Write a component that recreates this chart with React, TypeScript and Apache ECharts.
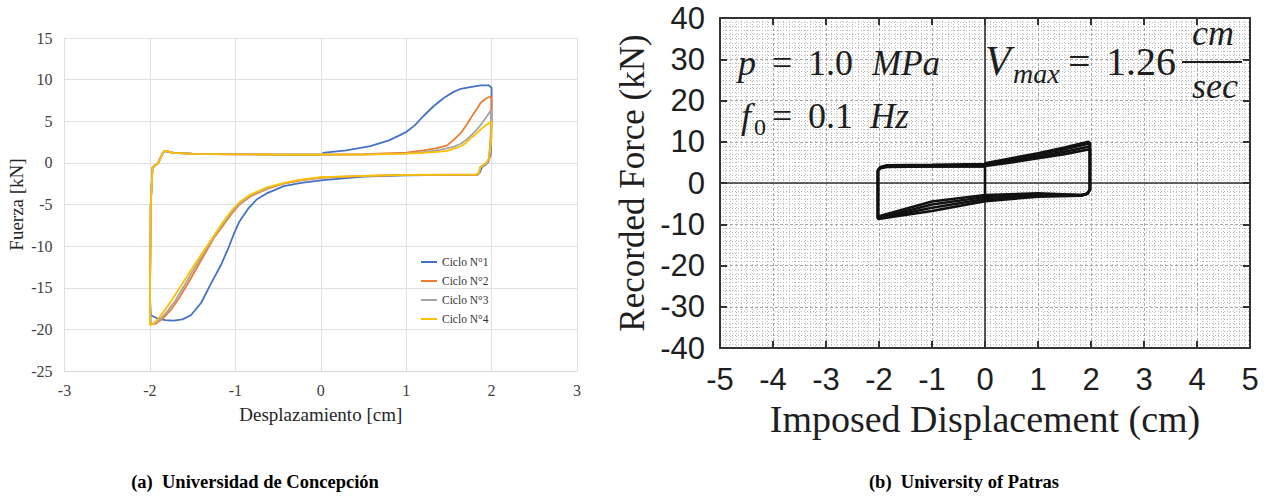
import React, { useEffect, useRef } from "react";
import * as echarts from "echarts";

// ---------- Left chart (Universidad de Concepción) ----------
const leftNames = ["Ciclo N°1", "Ciclo N°2", "Ciclo N°3", "Ciclo N°4"];
const leftColors = ["#4472C4", "#ED7D31", "#A5A5A5", "#FFC000"];
const leftXTicks = { min: -3, max: 3, interval: 1 };
const leftYTicks = { min: -25, max: 15, interval: 5 };

const ciclo1: number[][] = [
  [0.02, 1.2], [0.3, 1.5], [0.58, 2.0], [0.8, 2.7], [1.0, 3.7], [1.1, 4.5], [1.2, 5.6], [1.32, 6.8],
  [1.44, 7.8], [1.55, 8.5], [1.64, 8.9], [1.75, 9.1], [1.87, 9.3], [1.97, 9.3], [2.0, 9.0],
  [2.0, 5.0], [1.99, 1.0], [1.96, 0.1], [1.92, -0.3], [1.89, -0.45], [1.86, -1.2], [1.83, -1.45],
  [1.5, -1.45], [1.0, -1.5], [0.5, -1.65], [0.0, -2.1], [-0.23, -2.4], [-0.43, -2.8], [-0.62, -3.6],
  [-0.75, -4.4], [-0.85, -5.5], [-0.95, -7.0], [-1.02, -8.6], [-1.08, -10.2], [-1.17, -12.3],
  [-1.29, -14.6], [-1.4, -16.8], [-1.52, -18.3], [-1.62, -18.8], [-1.72, -18.95], [-1.82, -18.9],
  [-1.91, -18.7], [-1.99, -18.3], [-2.0, -16.0], [-1.99, -5.0], [-1.97, -0.6], [-1.94, -0.3],
  [-1.91, -0.1], [-1.87, 0.8], [-1.83, 1.4], [-1.78, 1.3], [-1.72, 1.2], [-1.5, 1.1], [-1.0, 1.05],
  [-0.5, 1.0], [0.0, 1.0],
];
const ciclo2: number[][] = [
  [0.0, 1.0], [0.5, 1.05], [1.0, 1.24], [1.2, 1.5], [1.35, 1.75], [1.48, 2.1], [1.56, 2.8],
  [1.64, 3.6], [1.71, 4.6], [1.77, 5.6], [1.83, 6.5], [1.87, 7.2], [1.93, 7.7], [1.99, 8.0],
  [2.0, 7.5], [1.99, 3.0], [1.97, 0.5], [1.94, 0.0], [1.9, -0.3], [1.87, -0.5], [1.85, -1.2],
  [1.83, -1.4], [1.5, -1.4], [1.0, -1.45], [0.5, -1.6], [0.0, -1.8], [-0.23, -2.1], [-0.43, -2.5],
  [-0.62, -3.1], [-0.82, -4.0], [-0.95, -5.0], [-1.05, -6.2], [-1.15, -7.6], [-1.25, -9.0],
  [-1.35, -10.8], [-1.45, -12.6], [-1.55, -14.4], [-1.65, -16.1], [-1.75, -17.6], [-1.85, -18.7],
  [-1.93, -19.3], [-1.99, -19.4], [-2.0, -17.0], [-1.99, -5.0], [-1.97, -0.6], [-1.93, -0.2],
  [-1.9, 0.0], [-1.86, 1.0], [-1.83, 1.45], [-1.78, 1.35], [-1.72, 1.2], [-1.5, 1.08],
  [-1.0, 1.03], [-0.5, 1.0], [0.0, 1.0],
];
const ciclo3: number[][] = [
  [0.0, 1.0], [0.5, 1.0], [1.0, 1.15], [1.2, 1.3], [1.4, 1.55], [1.56, 1.95], [1.64, 2.3],
  [1.72, 2.9], [1.8, 3.7], [1.86, 4.4], [1.91, 5.1], [1.96, 5.8], [1.99, 6.3], [2.0, 6.0],
  [1.99, 3.0], [1.97, 0.5], [1.94, 0.0], [1.9, -0.3], [1.87, -0.5], [1.85, -1.2], [1.83, -1.4],
  [1.0, -1.45], [0.5, -1.55], [0.0, -1.75], [-0.23, -2.05], [-0.43, -2.45], [-0.62, -3.0],
  [-0.82, -3.9], [-0.95, -4.9], [-1.05, -6.0], [-1.15, -7.4], [-1.27, -9.2], [-1.38, -11.0],
  [-1.5, -13.0], [-1.6, -14.8], [-1.7, -16.5], [-1.8, -17.9], [-1.88, -18.8], [-1.95, -19.3],
  [-1.99, -19.4], [-2.0, -17.0], [-1.99, -5.0], [-1.97, -0.6], [-1.93, -0.2], [-1.9, 0.0],
  [-1.86, 1.0], [-1.83, 1.45], [-1.78, 1.35], [-1.72, 1.2], [-1.5, 1.08], [-1.0, 1.03],
  [-0.5, 1.0], [0.0, 1.0],
];
const ciclo4: number[][] = [
  [0.0, 1.0], [0.5, 0.98], [1.0, 1.1], [1.2, 1.2], [1.4, 1.35], [1.48, 1.45], [1.56, 1.7],
  [1.64, 2.0], [1.7, 2.4], [1.76, 3.0], [1.82, 3.5], [1.87, 4.0], [1.93, 4.5], [1.99, 4.9],
  [2.0, 5.0], [2.0, 3.0], [1.97, 0.5], [1.94, 0.0], [1.9, -0.3], [1.87, -0.5], [1.85, -1.2],
  [1.82, -1.4], [1.0, -1.45], [0.5, -1.55], [0.0, -1.7], [-0.23, -2.0], [-0.43, -2.4],
  [-0.62, -2.9], [-0.82, -3.8], [-0.95, -4.7], [-1.05, -5.8], [-1.15, -7.2], [-1.3, -9.5],
  [-1.45, -11.8], [-1.6, -14.2], [-1.72, -16.1], [-1.82, -17.6], [-1.9, -18.7], [-1.96, -19.3],
  [-2.0, -19.5], [-2.0, -17.0], [-1.99, -5.0], [-1.97, -0.6], [-1.93, -0.2], [-1.9, 0.0],
  [-1.86, 1.0], [-1.83, 1.45], [-1.78, 1.35], [-1.72, 1.2], [-1.5, 1.08], [-1.0, 1.03],
  [-0.5, 1.0], [0.0, 1.0],
];
const leftData = [ciclo1, ciclo2, ciclo3, ciclo4];

// ---------- Right chart (University of Patras) ----------
const rightXTicks = { min: -5, max: 5, interval: 1 };
const rightYTicks = { min: -40, max: 40, interval: 10 };

const patras1: number[][] = [
  [0, -3.0], [0, 4.8], [0.5, 6.0], [1.0, 7.2], [1.5, 8.6], [1.95, 10.0], [1.98, 9.7], [1.98, -1.7],
  [1.93, -2.6], [1.82, -2.9], [1.0, -2.5], [0, -2.9], [-1.0, -4.5], [-1.95, -7.9], [-2.02, -8.2],
  [-2.02, 3.2], [-1.97, 3.9], [-1.85, 4.3], [-1.0, 4.4], [0, 4.6],
];
const patras2: number[][] = [
  [0, 4.6], [0.5, 5.7], [1.0, 6.9], [1.5, 8.2], [1.95, 9.5], [1.98, 9.2], [1.98, -1.6],
  [1.93, -2.6], [1.82, -2.9], [1.0, -2.8], [0, -3.4], [-1.0, -5.2], [-1.95, -8.3], [-2.02, -8.5],
  [-2.02, 3.0], [-1.97, 3.8], [-1.85, 4.1], [-1.0, 4.2], [0, 4.3],
];
const patras3: number[][] = [
  [0, 4.3], [0.5, 5.3], [1.0, 6.4], [1.5, 7.6], [1.95, 8.8], [1.98, 8.6], [1.98, -1.6],
  [1.93, -2.6], [1.82, -3.0], [1.0, -3.1], [0, -3.9], [-1.0, -6.0], [-1.95, -8.5], [-2.02, -8.6],
  [-2.02, 3.0], [-1.97, 3.7], [-1.85, 4.0], [-1.0, 4.0], [0, 4.1],
];
const patras4: number[][] = [
  [0, 4.1], [0.5, 5.0], [1.0, 6.0], [1.5, 7.0], [1.95, 8.1], [1.98, 7.9], [1.98, -1.6],
  [1.93, -2.6], [1.82, -3.1], [1.0, -3.3], [0, -4.4], [-1.0, -6.8], [-1.95, -8.6], [-2.02, -8.7],
  [-2.02, 2.9], [-1.97, 3.6], [-1.85, 3.9], [-1.0, 4.0], [0, 4.0],
];
const rightData = [patras1, patras2, patras3, patras4];

const captions = ["(a)  Universidad de Concepción", "(b)  University of Patras"];

const SERIF = '"Liberation Serif", "Times New Roman", serif';
const SANS = '"Liberation Sans", Arial, sans-serif';

export default function App() {
  const ref = useRef<HTMLDivElement>(null);

  useEffect(() => {
    document.body.style.margin = "0";
    if (!ref.current) return;
    const chart = echarts.init(ref.current, null, { renderer: "svg" });

    const rightAxisLine = { show: true, onZero: false, lineStyle: { color: "#333", width: 2 } };
    const rightTick = { show: true, inside: true, length: 7, lineStyle: { color: "#333", width: 2 } };

    const mathText = (
      text: string, x: number, y: number, size: number, italic: boolean
    ) => ({
      type: "text",
      x,
      y,
      z: 100,
      style: {
        text,
        fontFamily: SERIF,
        fontSize: size,
        fontStyle: italic ? "italic" : "normal",
        fill: "#1e1e1e",
        align: "left",
        verticalAlign: "middle",
      },
    });

    const captionText = (text: string, x: number) => ({
      type: "text",
      x,
      y: 482,
      style: {
        text,
        fontFamily: SERIF,
        fontSize: 18.5,
        fontWeight: "bold",
        fill: "#000",
        align: "center",
        verticalAlign: "middle",
      },
    });

    const option: any = {
      animation: false,
      backgroundColor: "#ffffff",
      grid: [
        { left: 64.5, top: 38, width: 512.5, height: 333, outerBoundsMode: "none", containLabel: false },
        { left: 720, top: 18, width: 530, height: 330, outerBoundsMode: "none", containLabel: false },
      ],
      legend: {
        data: leftNames,
        orient: "vertical",
        left: 416,
        top: 251,
        icon: "rect",
        itemWidth: 16,
        itemHeight: 2,
        itemGap: 7,
        textStyle: { fontFamily: SERIF, fontSize: 11.5, lineHeight: 12, color: "#333" },
      },
      xAxis: [
        {
          type: "value",
          gridIndex: 0,
          ...leftXTicks,
          name: "Desplazamiento [cm]",
          nameLocation: "middle",
          nameGap: 34,
          nameTextStyle: { fontFamily: SERIF, fontSize: 19, color: "#262626" },
          axisLine: { show: true, onZero: false, lineStyle: { color: "#d9d9d9", width: 1 } },
          axisTick: { show: false },
          axisLabel: { fontFamily: SERIF, fontSize: 16, color: "#404040", margin: 11 },
          splitLine: { show: true, lineStyle: { color: "#e0e0e0", width: 1 } },
        },
        {
          type: "value",
          gridIndex: 1,
          ...rightXTicks,
          name: "Imposed Displacement (cm)",
          nameLocation: "middle",
          nameGap: 50,
          nameTextStyle: { fontFamily: SERIF, fontSize: 38, color: "#1e1e1e" },
          axisLine: rightAxisLine,
          axisTick: rightTick,
          axisLabel: { fontFamily: SANS, fontSize: 31, color: "#1e1e1e", margin: 16 },
          splitLine: { show: true, lineStyle: { color: "#a8a8a8", width: 1, type: [3, 2] } },
          minorTick: { show: true, splitNumber: 10, length: 0, lineStyle: { color: "transparent" } },
          minorSplitLine: { show: true, lineStyle: { color: "#bdbdbd", width: 1, type: [1, 2] } },
        },
        {
          type: "value",
          gridIndex: 1,
          position: "top",
          ...rightXTicks,
          axisLine: rightAxisLine,
          axisTick: rightTick,
          axisLabel: { show: false },
          splitLine: { show: false },
        },
      ],
      yAxis: [
        {
          type: "value",
          gridIndex: 0,
          ...leftYTicks,
          name: "Fuerza [kN]",
          nameLocation: "middle",
          nameRotate: 90,
          nameGap: 39,
          nameTextStyle: { fontFamily: SERIF, fontSize: 19, color: "#262626" },
          axisLine: { show: false },
          axisTick: { show: false },
          axisLabel: { fontFamily: SERIF, fontSize: 16, color: "#404040", margin: 12 },
          splitLine: { show: true, lineStyle: { color: "#e0e0e0", width: 1 } },
        },
        {
          type: "value",
          gridIndex: 1,
          ...rightYTicks,
          name: "Recorded Force (kN)",
          nameLocation: "middle",
          nameRotate: 90,
          nameGap: 70,
          nameTextStyle: { fontFamily: SERIF, fontSize: 35, color: "#1e1e1e" },
          axisLine: rightAxisLine,
          axisTick: rightTick,
          axisLabel: { fontFamily: SANS, fontSize: 31, color: "#1e1e1e", margin: 15 },
          splitLine: { show: true, lineStyle: { color: "#a8a8a8", width: 1, type: [3, 2] } },
          minorTick: { show: true, splitNumber: 10, length: 0, lineStyle: { color: "transparent" } },
          minorSplitLine: { show: true, lineStyle: { color: "#bdbdbd", width: 1, type: [1, 2] } },
        },
        {
          type: "value",
          gridIndex: 1,
          position: "right",
          ...rightYTicks,
          axisLine: rightAxisLine,
          axisTick: rightTick,
          axisLabel: { show: false },
          splitLine: { show: false },
        },
      ],
      series: [
        ...leftData.map((d, i) => ({
          name: leftNames[i],
          type: "line",
          xAxisIndex: 0,
          yAxisIndex: 0,
          data: d,
          showSymbol: false,
          symbol: "none",
          color: leftColors[i],
          lineStyle: { color: leftColors[i], width: 1.8 },
          z: 2 + i,
        })),
        ...rightData.map((d, i) => ({
          name: "Patras " + (i + 1),
          type: "line",
          xAxisIndex: 1,
          yAxisIndex: 1,
          data: d,
          showSymbol: false,
          symbol: "none",
          lineStyle: { color: "#111", width: 2.6 },
          z: 5,
          markLine:
            i === 0
              ? {
                  silent: true,
                  symbol: ["none", "none"],
                  label: { show: false },
                  lineStyle: { color: "#333", width: 1.6, type: "solid" },
                  data: [{ xAxis: 0 }, { yAxis: 0 }],
                }
              : undefined,
        })),
      ],
      graphic: [
        // p = 1.0 MPa
        mathText("p", 738, 63, 36, true),
        mathText("=", 772, 63, 36, false),
        mathText("1.0", 808, 63, 36, false),
        mathText("MPa", 872, 63, 35, true),
        // f0 = 0.1 Hz
        mathText("f", 741, 116, 36, true),
        mathText("0", 754, 127, 24, false),
        mathText("=", 772, 116, 36, false),
        mathText("0.1", 808, 116, 36, false),
        mathText("Hz", 870, 116, 35, true),
        // Vmax = 1.26 cm/sec
        mathText("V", 985, 61, 42, true),
        mathText("max", 1013, 73, 28, true),
        mathText("=", 1068, 61, 40, false),
        mathText("1.26", 1106, 61, 40, false),
        mathText("cm", 1192, 33, 36, true),
        {
          type: "line",
          z: 100,
          shape: { x1: 1182, y1: 62, x2: 1242, y2: 62 },
          style: { stroke: "#1e1e1e", lineWidth: 2 },
        },
        mathText("sec", 1192, 86, 36, true),
        // captions
        captionText(captions[0], 255),
        captionText(captions[1], 964),
      ],
    };

    chart.setOption(option);
    return () => chart.dispose();
  }, []);

  return <div ref={ref} style={{ width: 1269, height: 501 }} />;
}
